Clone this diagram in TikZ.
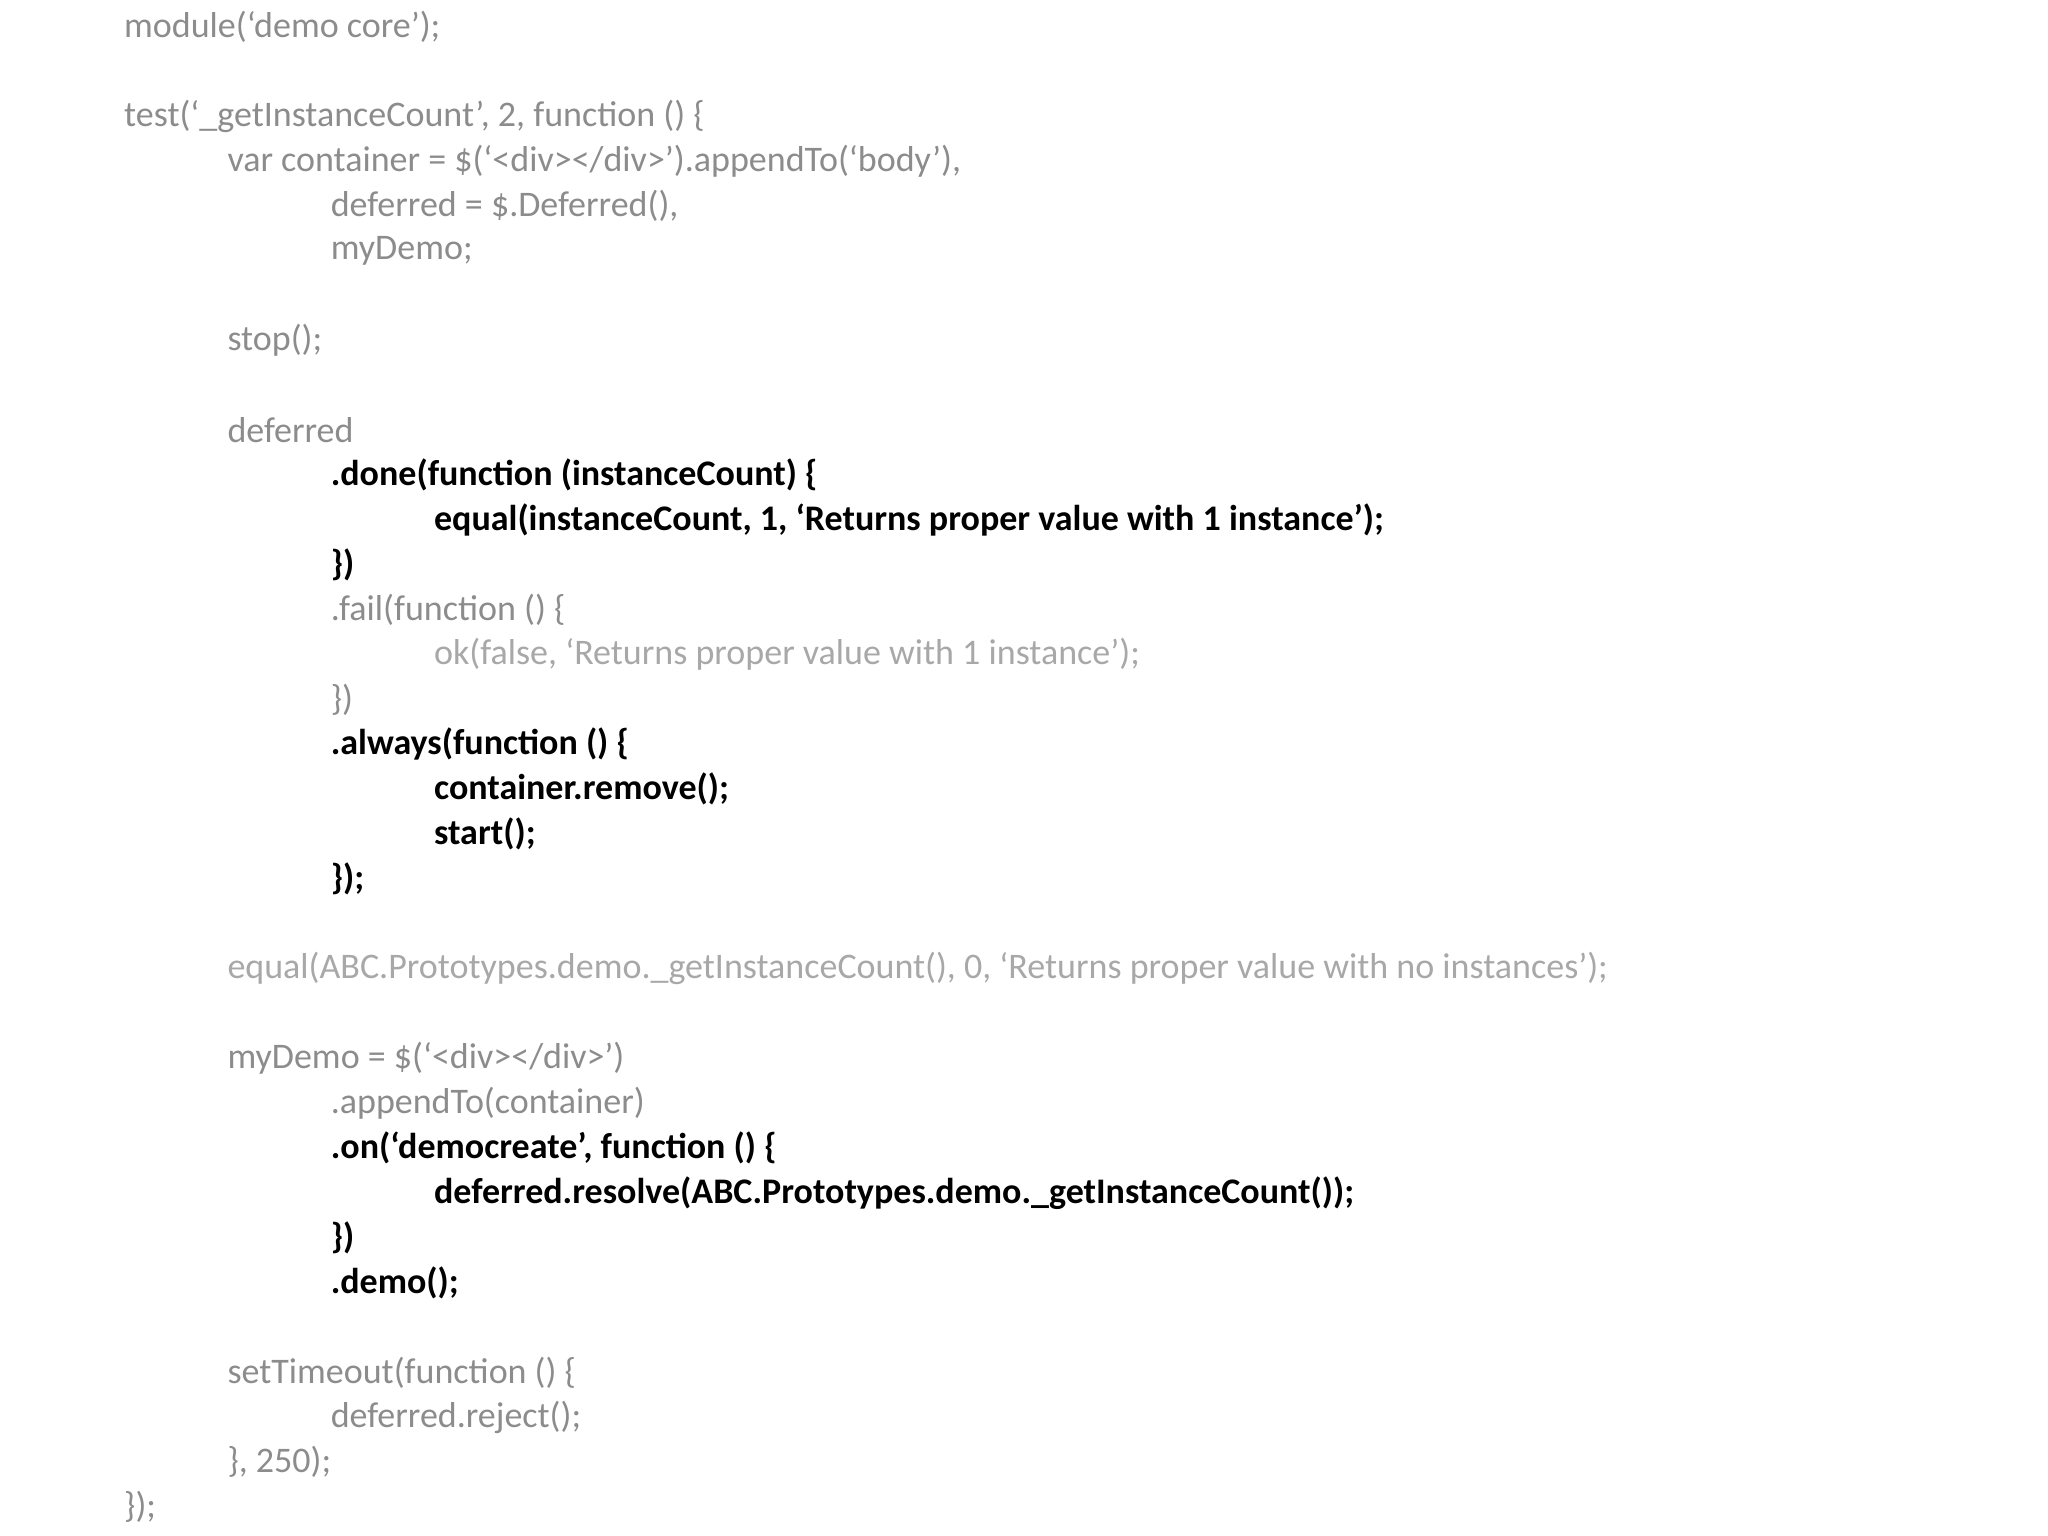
\documentclass[tikz,border=0pt]{standalone}
\usepackage{fontspec}
\setmainfont{Carlito}
\definecolor{g1}{HTML}{8C8C8C}
\definecolor{g2}{HTML}{A8A8A8}
\newcommand{\cl}[5]{\node[code,#3] (#1) at ({124+103.3*#4},{1509.6-44.87*#2}) {#5};}
\begin{document}
\begin{tikzpicture}[x=1pt,y=1pt,
  code/.style={anchor=west,inner sep=0pt,font=\fontsize{36}{40}\selectfont},
  gr/.style={text=g1},
  lg/.style={text=g2},
  bk/.style={text=black,font=\fontsize{36}{40}\selectfont\bfseries}]
\useasboundingbox (0,0) rectangle (2048,1536);
\cl{a0}{0}{gr}{0}{module(‘demo core’);}
\cl{a2}{2}{gr}{0}{test(‘\_getInstanceCount’, 2, function () \{}
\cl{a3}{3}{gr}{1}{var container = \$(‘<div></div>’).appendTo(‘body’),}
\cl{a4}{4}{gr}{2}{deferred = \$.Deferred(),}
\cl{a5}{5}{gr}{2}{myDemo;}
\cl{a7}{7}{gr}{1}{stop();}
\cl{a9}{9}{gr}{1}{deferred}
\cl{a10}{10}{bk}{2}{.done(function (instanceCount) \{}
\cl{a11}{11}{bk}{3}{equal(instanceCount, 1, ‘Returns proper value with 1 instance’);}
\cl{a12}{12}{bk}{2}{\})}
\cl{a13}{13}{gr}{2}{.fail(function () \{}
\cl{a14}{14}{lg}{3}{ok(false, ‘Returns proper value with 1 instance’);}
\cl{a15}{15}{gr}{2}{\})}
\cl{a16}{16}{bk}{2}{.always(function () \{}
\cl{a17}{17}{bk}{3}{container.remove();}
\cl{a18}{18}{bk}{3}{start();}
\cl{a19}{19}{bk}{2}{\});}
\cl{a21}{21}{lg}{1}{equal(ABC.Prototypes.demo.\_getInstanceCount(), 0, ‘Returns proper value with no instances’);}
\cl{a23}{23}{gr}{1}{myDemo = \$(‘<div></div>’)}
\cl{a24}{24}{gr}{2}{.appendTo(container)}
\cl{a25}{25}{bk}{2}{.on(‘democreate’, function () \{}
\cl{a26}{26}{bk}{3}{deferred.resolve(ABC.Prototypes.demo.\_getInstanceCount());}
\cl{a27}{27}{bk}{2}{\})}
\cl{a28}{28}{bk}{2}{.demo();}
\cl{a30}{30}{gr}{1}{setTimeout(function () \{}
\cl{a31}{31}{gr}{2}{deferred.reject();}
\cl{a32}{32}{gr}{1}{\}, 250);}
\cl{a33}{33}{gr}{0}{\});}
\end{tikzpicture}
\end{document}
